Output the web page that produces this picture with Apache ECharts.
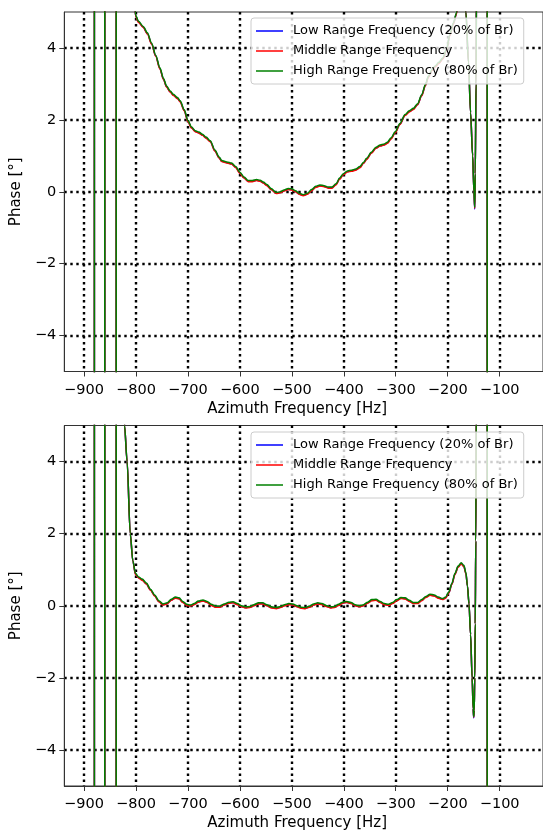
<!DOCTYPE html>
<html><head><meta charset="utf-8">
<script src="https://cdn.jsdelivr.net/npm/echarts@6/dist/echarts.min.js"></script>
<style>html,body{margin:0;padding:0;background:#fff}#c{width:543px;height:831px}</style>
</head><body><div id="c"></div>
<script>
// ---------- data ----------
const seriesNames = ['Low Range Frequency (20% of Br)', 'Middle Range Frequency', 'High Range Frequency (80% of Br)'];
const xTickValues = [-900, -800, -700, -600, -500, -400, -300, -200, -100];
const yTickValues = [-4, -2, 0, 2, 4];

// top panel
const xTop = [-930,-880,-880,-860,-860,-838,-838,-812,-804,-801,-795,-786,-778,-770,-762,-754,-747,-741,-734,-728,-720,-715,-707,-700,-693,-686,-679,-672,-665,-657,-648,-640,-635,-625,-616,-608,-600,-592,-584,-576,-568,-561,-555,-548,-540,-530,-522,-515,-507,-500,-493,-486,-478,-470,-462,-454,-446,-438,-430,-423,-415,-408,-401,-393,-385,-377,-369,-362,-356,-347,-338,-330,-322,-316,-309,-301,-292,-282,-274,-266,-258,-250,-243,-237,-230,-224,-217,-209,-202,-196,-189,-183,-177,-171,-165,-160,-156,-152,-149.5,-148,-147,-145.5,-144.5,-144,-124,-124,-10];
const highTop = [-180,-180,180,180,-180,-180,180,30,6.0,4.92,4.74,4.60,4.42,4.14,3.80,3.45,3.15,2.94,2.80,2.71,2.62,2.53,2.28,1.98,1.80,1.70,1.66,1.60,1.52,1.42,1.16,0.97,0.87,0.83,0.80,0.70,0.54,0.41,0.31,0.31,0.34,0.32,0.27,0.20,0.09,-0.02,0.00,0.05,0.09,0.08,0.03,-0.04,-0.08,-0.04,0.06,0.15,0.19,0.17,0.13,0.13,0.22,0.38,0.50,0.58,0.60,0.63,0.70,0.82,0.93,1.10,1.24,1.30,1.33,1.38,1.50,1.67,1.90,2.15,2.25,2.32,2.45,2.70,2.98,3.22,3.40,3.50,3.60,3.73,3.98,4.37,4.70,4.98,5.6,6.0,5.0,3.6,2.2,1.0,0.0,-0.43,0.5,3.0,6.0,180,180,-180,-180];
const midTop = [-180,-180,180,180,-180,-180,180,30,6.0,
  4.89,4.71,4.57,4.39,4.11,3.77,3.42,3.12,2.91,2.77,
  2.68,2.59,2.50,2.25,1.95,1.77,1.67,1.63,1.57,1.49,
  1.39,1.13,0.94,0.84,0.80,0.77,0.67,0.51,0.38,0.28,
  0.28,0.31,0.29,0.24,0.17,0.06,-0.05,-0.03,0.02,0.06,
  0.05,0.00,-0.07,-0.11,-0.07,0.03,0.12,0.16,0.14,0.10,
  0.10,0.19,0.35,0.47,0.55,0.57,0.60,0.67,0.79,0.90,
  1.07,1.21,1.27,1.30,1.35,1.47,1.64,1.87,2.12,2.22,
  2.29,2.42,2.67,2.95,3.19,3.37,3.47,3.57,3.70,3.95,
  4.34,4.67,4.95,
  5.6,6.0,5.0,3.6,2.2,1.0,0.0,-0.46,0.5,3.0,6.0,180,180,-180,-180];
const lowTop = [-180,-180,180,180,-180,-180,180,30,6.0,
  4.90,4.72,4.58,4.40,4.12,3.78,3.43,3.13,2.92,2.78,
  2.69,2.60,2.51,2.26,1.96,1.78,1.68,1.64,1.58,1.50,
  1.40,1.14,0.95,0.85,0.81,0.78,0.68,0.52,0.39,0.29,
  0.29,0.32,0.30,0.25,0.18,0.07,-0.04,-0.02,0.03,0.07,
  0.06,0.01,-0.06,-0.10,-0.06,0.04,0.13,0.17,0.15,0.11,
  0.11,0.20,0.36,0.48,0.56,0.58,0.61,0.68,0.80,0.91,
  1.08,1.22,1.28,1.31,1.36,1.48,1.65,1.88,2.13,2.23,
  2.30,2.43,2.68,2.96,3.20,3.38,3.48,3.58,3.71,3.96,
  4.35,4.68,4.96,
  5.6,6.0,5.0,3.6,2.2,1.0,0.0,-0.48,0.5,3.0,6.0,180,180,-180,-180];

// bottom panel
const xBot = [-930,-880,-880,-860,-860,-838,-838,-830,-822,-817,-811,-806,-801,-795,-788,-780,-772,-764,-756,-748,-740,-732,-724,-717,-710,-702,-695,-688,-680,-671,-663,-655,-647,-639,-630,-621,-613,-605,-597,-589,-581,-573,-564,-556,-548,-539,-530,-522,-514,-506,-498,-490,-482,-474,-466,-458,-450,-442,-434,-426,-418,-410,-402,-394,-386,-378,-370,-362,-354,-346,-338,-330,-322,-314,-306,-298,-290,-282,-274,-266,-258,-250,-242,-234,-226,-218,-210,-204,-198,-192,-186,-180,-174,-169,-165,-162,-159,-156,-153,-151,-150,-149,-148,-147,-146,-145,-144,-124,-124,-10];
const highBot = [-180,-180,180,180,-180,-180,180,15,5.0,4.0,2.0,1.25,0.9,0.80,0.74,0.63,0.46,0.30,0.14,0.05,0.08,0.18,0.24,0.22,0.12,0.04,0.02,0.06,0.13,0.16,0.12,0.04,-0.01,-0.01,0.05,0.10,0.11,0.06,0.00,-0.03,-0.02,0.03,0.08,0.08,0.03,-0.03,-0.05,-0.02,0.03,0.06,0.05,0.00,-0.04,-0.05,-0.01,0.05,0.08,0.06,0.01,-0.03,-0.02,0.04,0.10,0.12,0.09,0.03,0.00,0.03,0.10,0.17,0.18,0.12,0.06,0.04,0.09,0.17,0.23,0.22,0.15,0.09,0.09,0.17,0.26,0.32,0.30,0.24,0.20,0.24,0.38,0.62,0.90,1.10,1.19,1.12,0.92,0.55,0.05,-0.8,-2.0,-2.85,-3.07,-2.9,-2.0,-0.5,1.8,5.5,180,180,-180,-180];
const midBot = [-180,-180,180,180,-180,-180,180,15,5.0,4.0,2.0,1.25,
  0.87,0.77,0.71,0.60,0.43,0.27,0.11,0.02,0.05,0.15,
  0.21,0.19,0.09,0.01,-0.01,0.03,0.10,0.13,0.09,0.01,
  -0.04,-0.04,0.02,0.07,0.08,0.03,-0.03,-0.06,-0.05,0.00,
  0.05,0.05,0.00,-0.06,-0.08,-0.05,0.00,0.03,0.02,-0.03,
  -0.07,-0.08,-0.04,0.02,0.05,0.03,-0.02,-0.06,-0.05,0.01,
  0.07,0.09,0.06,0.00,-0.03,0.00,0.07,0.14,0.15,0.09,
  0.03,0.01,0.06,0.14,0.20,0.19,0.12,0.06,0.06,0.14,
  0.23,0.29,0.27,0.21,0.17,0.21,0.35,0.59,0.87,1.07,
  1.16,1.09,0.89,
  0.55,0.05,-0.8,-2.0,-2.85,-3.09,-2.9,-2.0,-0.5,1.8,5.5,180,180,-180,-180];
const lowBot = [-180,-180,180,180,-180,-180,180,15,5.0,4.0,2.0,1.25,
  0.88,0.78,0.72,0.61,0.44,0.28,0.12,0.03,0.06,0.16,
  0.22,0.20,0.10,0.02,0.00,0.04,0.11,0.14,0.10,0.02,
  -0.03,-0.03,0.03,0.08,0.09,0.04,-0.02,-0.05,-0.04,0.01,
  0.06,0.06,0.01,-0.05,-0.07,-0.04,0.01,0.04,0.03,-0.02,
  -0.06,-0.07,-0.03,0.03,0.06,0.04,-0.01,-0.05,-0.04,0.02,
  0.08,0.10,0.07,0.01,-0.02,0.01,0.08,0.15,0.16,0.10,
  0.04,0.02,0.07,0.15,0.21,0.20,0.13,0.07,0.07,0.15,
  0.24,0.30,0.28,0.22,0.18,0.22,0.36,0.60,0.88,1.08,
  1.17,1.10,0.90,
  0.55,0.05,-0.8,-2.0,-2.85,-3.11,-2.9,-2.0,-0.5,1.8,5.5,180,180,-180,-180];

// ---------- chart ----------
const FONT = 'DejaVu Sans';
const colors = ['#0000ff', '#ff0000', '#008000'];
const fmt = v => String(v).replace('-', '\u2212');
const zip = (xs, ys) => xs.map((x, i) => [x, ys[i]]);

const gridTops = [12, 425.5];
const gridHeights = [359.5, 360.5];
const GRIDLINE = { color: '#000', width: 2.4, type: [2.4, 3.6] };

function xAxis(i) {
  return {
    type: 'value', gridIndex: i, min: -937.9, max: -16.6,
    axisLine: { show: true, onZero: false, lineStyle: { color: '#333', width: 1 } },
    axisTick: { show: true, length: 5, customValues: xTickValues, lineStyle: { color: '#333', width: 1 } },
    axisLabel: { customValues: xTickValues, formatter: fmt, fontSize: 14.5, color: '#000', fontFamily: FONT, margin: 11 },
    splitLine: { show: true, lineStyle: GRIDLINE },
    name: 'Azimuth Frequency [Hz]', nameLocation: 'middle', nameGap: 30,
    nameTextStyle: { fontSize: 15, color: '#000', fontFamily: FONT, padding: [0, 13, 0, 0] }
  };
}
function yAxis(i) {
  return {
    type: 'value', gridIndex: i, min: -5, max: 5,
    axisLine: { show: true, onZero: false, lineStyle: { color: '#333', width: 1 } },
    axisTick: { show: true, length: 5, customValues: yTickValues, lineStyle: { color: '#333', width: 1 } },
    axisLabel: { customValues: yTickValues, formatter: fmt, fontSize: 14.5, color: '#000', fontFamily: FONT, margin: 8 },
    splitLine: { show: true, lineStyle: GRIDLINE },
    name: 'Phase [°]', nameLocation: 'middle', nameGap: 38.5, nameRotate: 90,
    nameTextStyle: { fontSize: 15, color: '#000', fontFamily: FONT }
  };
}
function legend(top) {
  return {
    top: top, left: 251, orient: 'vertical', icon: 'rect',
    backgroundColor: 'rgba(255,255,255,0.8)', borderColor: '#cccccc', borderWidth: 1, borderRadius: 3,
    padding: [6, 6, 6, 5], itemWidth: 27, itemHeight: 1.5, itemGap: 6,
    textStyle: { fontSize: 13, lineHeight: 14, color: '#000', fontFamily: FONT, padding: [0, 0, 0, 5] },
    data: seriesNames, selectedMode: false
  };
}
function line(name, data, color, i) {
  return {
    type: 'line', name: name, xAxisIndex: i, yAxisIndex: i, data: data,
    symbol: 'none', showSymbol: false, smooth: 0.3, smoothMonotone: 'x', clip: true,
    lineStyle: { color: color, width: 1.5 }, itemStyle: { color: color },
    emphasis: { disabled: true }, animation: false
  };
}

const chart = echarts.init(document.getElementById('c'), null, { renderer: 'canvas' });
chart.setOption({
  animation: false,
  backgroundColor: '#fff',
  grid: [0, 1].map(i => ({
    left: 64.3, right: 0, top: gridTops[i], height: gridHeights[i],
    show: true, borderColor: '#333', borderWidth: 1, backgroundColor: 'transparent',
    containLabel: false, outerBoundsMode: 'none'
  })),
  xAxis: [xAxis(0), xAxis(1)],
  yAxis: [yAxis(0), yAxis(1)],
  legend: [legend(18), legend(432)],
  series: [
    line(seriesNames[0], zip(xTop, lowTop), colors[0], 0),
    line(seriesNames[1], zip(xTop, midTop), colors[1], 0),
    line(seriesNames[2], zip(xTop, highTop), colors[2], 0),
    line(seriesNames[0], zip(xBot, lowBot), colors[0], 1),
    line(seriesNames[1], zip(xBot, midBot), colors[1], 1),
    line(seriesNames[2], zip(xBot, highBot), colors[2], 1)
  ]
});
</script></body></html>
